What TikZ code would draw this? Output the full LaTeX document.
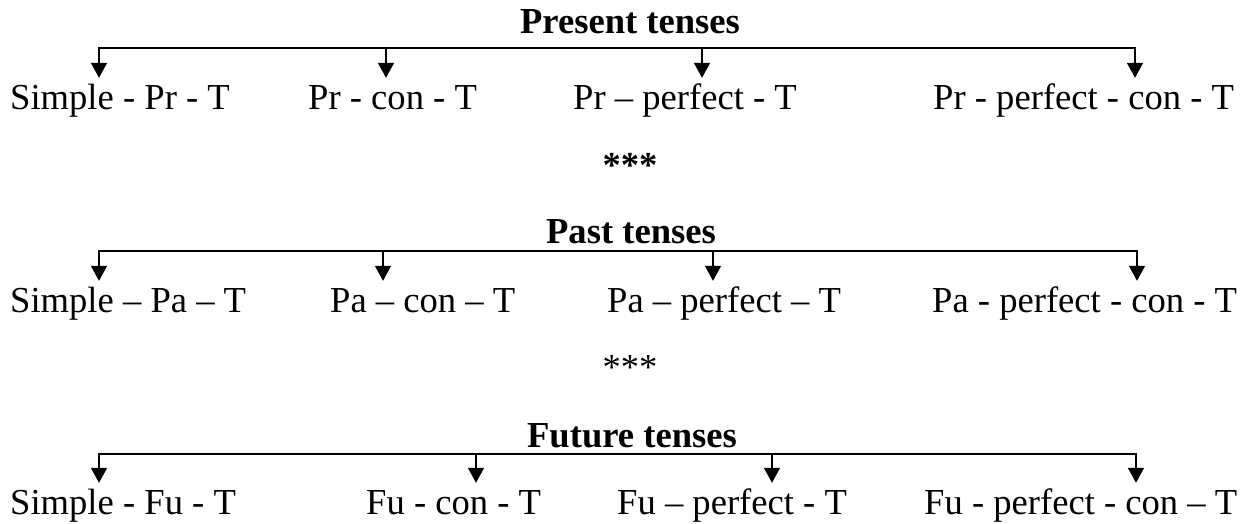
\documentclass[tikz,border=0pt]{standalone}
\usepackage{fontspec}
\setmainfont{Liberation Serif}
\usetikzlibrary{arrows.meta,positioning}

\begin{document}
\begin{tikzpicture}[x=1pt,y=-1pt,
  tense/.style={anchor=base west,inner xsep=0pt,inner ysep=6pt,text height=25pt,font=\fontsize{36.6}{44}\selectfont},
  group/.style={anchor=base,inner sep=0pt,font=\fontsize{36.6}{44}\selectfont\bfseries},
  stars/.style={anchor=base,inner sep=0pt,font=\fontsize{36.6}{44}\selectfont},
  bar/.style={line width=1.6pt,line cap=rect},
  branch/.style={line width=1.6pt,-{Triangle[width=16pt,length=15pt]}}]
\useasboundingbox (0,0) rectangle (1244,523);

% Present tenses
\node[group] (pres) at (630,33) {Present tenses};
\coordinate (pr1) at (99,48);
\coordinate (pr2) at (386,48);
\coordinate (pr3) at (702,48);
\coordinate (pr4) at (1135,48);
\node[tense] (prs) at (10,109) {Simple - Pr - T};
\node[tense] (prc) at (308,109) {Pr - con - T};
\node[tense] (prp) at (573,109) {Pr – perfect - T};
\node[tense] (prpc) at (933,109) {Pr - perfect - con - T};
\draw[bar] (pr1) -- (pr4);
\draw[branch] (pr1) -- (pr1 |- prs.north);
\draw[branch] (pr2) -- (pr2 |- prc.north);
\draw[branch] (pr3) -- (pr3 |- prp.north);
\draw[branch] (pr4) -- (pr4 |- prpc.north);

\node[stars,font=\fontsize{36.6}{44}\selectfont\bfseries] (sep1) at (630,177) {***};

% Past tenses
\node[group] (past) at (631,243) {Past tenses};
\coordinate (pa1) at (99,251);
\coordinate (pa2) at (383,251);
\coordinate (pa3) at (713,251);
\coordinate (pa4) at (1137,251);
\node[tense] (pas) at (10,312) {Simple – Pa – T};
\node[tense] (pac) at (330,312) {Pa – con – T};
\node[tense] (pap) at (607,312) {Pa – perfect – T};
\node[tense] (papc) at (932,312) {Pa - perfect - con - T};
\draw[bar] (pa1) -- (pa4);
\draw[branch] (pa1) -- (pa1 |- pas.north);
\draw[branch] (pa2) -- (pa2 |- pac.north);
\draw[branch] (pa3) -- (pa3 |- pap.north);
\draw[branch] (pa4) -- (pa4 |- papc.north);

\node[stars] (sep2) at (630,379) {***};

% Future tenses
\node[group] (fut) at (632,447) {Future tenses};
\coordinate (fu1) at (99,454);
\coordinate (fu2) at (476,454);
\coordinate (fu3) at (772,454);
\coordinate (fu4) at (1136,454);
\node[tense] (fus) at (10,514) {Simple - Fu - T};
\node[tense] (fuc) at (366,514) {Fu - con - T};
\node[tense] (fup) at (617,514) {Fu – perfect - T};
\node[tense] (fupc) at (924,514) {Fu - perfect - con – T};
\draw[bar] (fu1) -- (fu4);
\draw[branch] (fu1) -- (fu1 |- fus.north);
\draw[branch] (fu2) -- (fu2 |- fuc.north);
\draw[branch] (fu3) -- (fu3 |- fup.north);
\draw[branch] (fu4) -- (fu4 |- fupc.north);
\end{tikzpicture}
\end{document}
